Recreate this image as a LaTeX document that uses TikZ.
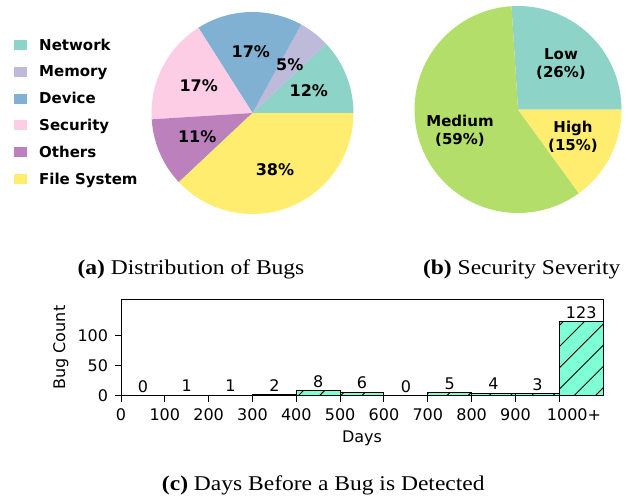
\documentclass[tikz,border=0pt]{standalone}
\usepackage{fontspec}
\newfontfamily\djv{DejaVu Sans}
\newfontfamily\capfont{Liberation Serif}[FakeStretch=1.12]
\usetikzlibrary{patterns.meta}
\definecolor{cNet}{HTML}{8DD3C7}
\definecolor{cMem}{HTML}{BEBADA}
\definecolor{cDev}{HTML}{80B1D3}
\definecolor{cSec}{HTML}{FCCDE5}
\definecolor{cOth}{HTML}{BC80BD}
\definecolor{cFS}{HTML}{FFED6F}
\definecolor{cMed}{HTML}{B3DE69}
\definecolor{aqua}{HTML}{7FFFD4}
\begin{document}
\begin{tikzpicture}[x=1pt,y=1pt,
  pct/.style={font=\djv\bfseries\fontsize{16}{19}\selectfont, align=center, inner sep=0pt},
  pctb/.style={font=\djv\bfseries\fontsize{15}{18}\selectfont, align=center, inner sep=0pt},
  legtext/.style={font=\djv\bfseries\fontsize{15}{18}\selectfont, anchor=base west, inner sep=0pt},
  legbox/.style={inner sep=0pt, minimum width=12.7pt, minimum height=10pt},
  captext/.style={font=\capfont\fontsize{21}{25}\selectfont, anchor=base, inner sep=0pt},
  ticklbl/.style={font=\djv\fontsize{16}{19}\selectfont, inner sep=0pt},
  barbox/.style={draw=black, line width=1pt, fill=aqua, postaction={pattern={Lines[angle=45,distance=15pt,line width=0.9pt]}}},
]
\useasboundingbox (0,0) rectangle (629,-503);

% ---------- Pie (a) ----------
\coordinate (pa) at (252.5,-113);
\fill[cNet] (pa) -- ++(0:101) arc[start angle=0,end angle=43.2,radius=101] -- cycle;
\fill[cMem] (pa) -- ++(43.2:101) arc[start angle=43.2,end angle=61.2,radius=101] -- cycle;
\fill[cDev] (pa) -- ++(61.2:101) arc[start angle=61.2,end angle=122.4,radius=101] -- cycle;
\fill[cSec] (pa) -- ++(122.4:101) arc[start angle=122.4,end angle=183.6,radius=101] -- cycle;
\fill[cOth] (pa) -- ++(183.6:101) arc[start angle=183.6,end angle=223.2,radius=101] -- cycle;
\fill[cFS] (pa) -- ++(223.2:101) arc[start angle=223.2,end angle=360,radius=101] -- cycle;
\node[pct] (lnet) at (308.8,-90.7) {12\%};
\node[pct] (lmem) at (289.7,-65.1) {5\%};
\node[pct] (ldev) at (250.8,-52) {17\%};
\node[pct] (lsec) at (198.7,-85.3) {17\%};
\node[pct] (loth) at (197.2,-136.6) {11\%};
\node[pct] (lfs) at (275,-169.3) {38\%};

% legend
\foreach \n/\c/\t/\y in {a/cNet/Network/45, b/cMem/Memory/71.8, c/cDev/Device/98.6, d/cSec/Security/125.4, e/cOth/Others/152.2, f/cFS/File System/179}{
  \node[legbox, fill=\c] (sq\n) at (20.35,-\y) {};
  \node[legtext] (lt\n) at (39,-\y-5.2) {\t};
}

% ---------- Pie (b) ----------
\coordinate (pb) at (518,-109.5);
\fill[cNet] (pb) -- ++(0:103.5) arc[start angle=0,end angle=93.6,radius=103.5] -- cycle;
\fill[cMed] (pb) -- ++(93.6:103.5) arc[start angle=93.6,end angle=306,radius=103.5] -- cycle;
\fill[cFS] (pb) -- ++(306:103.5) arc[start angle=306,end angle=360,radius=103.5] -- cycle;
\node[pctb] (llow) at (561,-63.8) {Low\\(26\%)};
\node[pctb] (lmed) at (460,-130.8) {Medium\\(59\%)};
\node[pctb] (lhigh) at (573,-136.8) {High\\(15\%)};

% captions
\node[captext] (capa) at (191,-274) {{\bfseries (a)} Distribution of Bugs};
\node[captext] (capb) at (521.7,-274) {{\bfseries (b)} Security Severity};
\node[captext] (capc) at (323.3,-490.7) {{\bfseries (c)} Days Before a Bug is Detected};

% ---------- Bar chart ----------
\def\bx{121}
\def\bw{43.83}
\def\by{-395.7}
\foreach \i/\v in {0/0,1/1,2/1,3/2,4/8,5/6,6/0,7/5,8/4,9/3,10/123}{
  \pgfmathsetmacro{\xa}{\bx+\bw*\i}
  \pgfmathsetmacro{\xb}{\bx+\bw*(\i+1)}
  \pgfmathsetmacro{\yt}{\by+0.6*\v}
  \pgfmathsetmacro{\xc}{\bx+\bw*(\i+0.5)}
  \path[barbox] (\xa,\by) rectangle (\xb,\yt);
  \node[ticklbl, anchor=base] (bl\i) at (\xc,\yt+3.4) {\v};
}
% axes frame
\draw[line width=1pt] (\bx,\by) rectangle (603.1,-299.3);
% x ticks
\foreach \i/\t in {0/0,1/100,2/200,3/300,4/400,5/500,6/600,7/700,8/800,9/900}{
  \pgfmathsetmacro{\xt}{\bx+\bw*\i}
  \draw[line width=1pt] (\xt,\by) -- (\xt,\by-6);
  \node[ticklbl, anchor=base] (xt\i) at (\xt,-420) {\t};
}
\draw[line width=1pt] (559.3,\by) -- (559.3,\by-6);
\node[ticklbl, anchor=base] (xt10) at (574,-420) {1000+};
% y ticks
\foreach \v/\yy in {0/-395.7,50/-365.7,100/-335.7}{
  \draw[line width=1pt] (115,\yy) -- (\bx,\yy);
  \node[ticklbl, anchor=east] (yt\v) at (108.3,\yy) {\v};
}
\node[ticklbl, anchor=base] (xlab) at (362,-442) {Days};
\node[ticklbl, anchor=base, rotate=90] (ylab) at (65,-347.6) {Bug Count};
\end{tikzpicture}
\end{document}
